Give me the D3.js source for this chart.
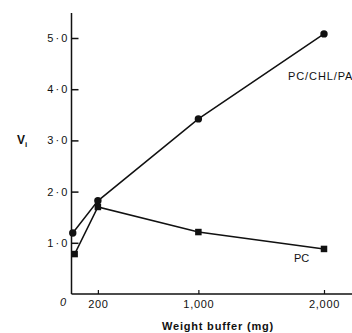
<!DOCTYPE html>
<html>
<head>
<meta charset="utf-8">
<script src="https://cdn.jsdelivr.net/npm/d3@7"></script>
<style>
  body { margin: 0; background: #fff; }
  text { font-family: "Liberation Sans", Arial, Helvetica, sans-serif; fill: #111; }
</style>
</head>
<body>
<svg id="chart" width="352" height="333"></svg>
<script>
// Vesicle volume Vi versus weight of buffer, two lipid mixtures
const weightsMixed = [0, 200, 1000, 2000];
const viMixed      = [1.19, 1.82, 3.42, 5.08];
const weightsPC    = [15, 200, 1000, 2000];
const viPC         = [0.78, 1.70, 1.21, 0.88];

const xTicks      = [200, 1000, 2000];
const xTickLabels = ["200", "1,000", "2,000"];
const yTicks      = [1, 2, 3, 4, 5];
const yTickLabels = ["1\u2009·\u20090", "2\u2009·\u20090", "3\u2009·\u20090", "4\u2009·\u20090", "5\u2009·\u20090"];

const svg = d3.select("#chart");
const ink = "#111";

const x = d3.scaleLinear().domain([-10, 2000]).range([71.5, 324]);
const y = d3.scaleLinear().domain([0, 5]).range([294, 38]);

// axis lines
svg.append("line")
  .attr("x1", x(-10)).attr("x2", x(-10))
  .attr("y1", y(0)).attr("y2", y(5.49))
  .attr("stroke", ink).attr("stroke-width", 1.5);
svg.append("line")
  .attr("x1", x(-10)).attr("x2", 352)
  .attr("y1", y(0)).attr("y2", y(0))
  .attr("stroke", ink).attr("stroke-width", 1.5);

// y axis: ticks point inward
const yAxis = svg.append("g")
  .attr("transform", `translate(${x(-10)},0)`)
  .call(d3.axisLeft(y).tickValues(yTicks)
    .tickFormat((d, i) => yTickLabels[i])
    .tickSize(-7).tickSizeOuter(0).tickPadding(4));
yAxis.select(".domain").remove();
yAxis.selectAll("line").attr("stroke", ink).attr("stroke-width", 1.5);
yAxis.selectAll("text").attr("font-size", 11).attr("fill", ink)
  .attr("font-family", "Liberation Sans, Arial, sans-serif");

// x axis: ticks point inward
const xAxis = svg.append("g")
  .attr("transform", `translate(0,${y(0)})`)
  .call(d3.axisBottom(x).tickValues(xTicks)
    .tickFormat((d, i) => xTickLabels[i])
    .tickSize(-4).tickSizeOuter(0).tickPadding(6));
xAxis.select(".domain").remove();
xAxis.selectAll("line").attr("stroke", ink).attr("stroke-width", 1.2);
xAxis.selectAll("text").attr("font-size", 11).attr("fill", ink)
  .attr("letter-spacing", 0.7)
  .attr("font-family", "Liberation Sans, Arial, sans-serif");

// origin label
svg.append("text")
  .attr("x", 63).attr("y", 306)
  .attr("text-anchor", "middle")
  .attr("font-size", 11).attr("font-style", "italic")
  .text("0");

// axis titles
svg.append("text")
  .attr("x", 162).attr("y", 330)
  .attr("font-size", 11).attr("font-weight", "bold")
  .attr("letter-spacing", 0.8)
  .text("Weight buffer (mg)");

const vi = svg.append("text")
  .attr("x", 17).attr("y", 144)
  .attr("font-size", 12).attr("font-weight", "bold");
vi.append("tspan").text("V");
vi.append("tspan").attr("font-size", 8).attr("dy", 3).text("i");

// series lines
const line = d3.line().x(d => x(d[0])).y(d => y(d[1]));
const mixed = d3.zip(weightsMixed, viMixed);
const pc = d3.zip(weightsPC, viPC);

svg.append("path").datum(mixed).attr("d", line)
  .attr("fill", "none").attr("stroke", ink).attr("stroke-width", 1.5);
svg.append("path").datum(pc).attr("d", line)
  .attr("fill", "none").attr("stroke", ink).attr("stroke-width", 1.5);

// markers
svg.append("g").selectAll("circle").data(mixed).join("circle")
  .attr("cx", d => x(d[0])).attr("cy", d => y(d[1]))
  .attr("r", 3.7).attr("fill", ink);
const sq = 6.5;
svg.append("g").selectAll("rect").data(pc).join("rect")
  .attr("x", d => x(d[0]) - sq / 2).attr("y", d => y(d[1]) - sq / 2)
  .attr("width", sq).attr("height", sq).attr("fill", ink);

// series labels
svg.append("text")
  .attr("x", x(2000) - 36).attr("y", y(5.08) + 46)
  .attr("font-size", 11).attr("letter-spacing", 0.9)
  .text("PC/CHL/PA");
svg.append("text")
  .attr("x", x(2000) - 30).attr("y", y(0.88) + 13)
  .attr("font-size", 11)
  .text("PC");
</script>
</body>
</html>
